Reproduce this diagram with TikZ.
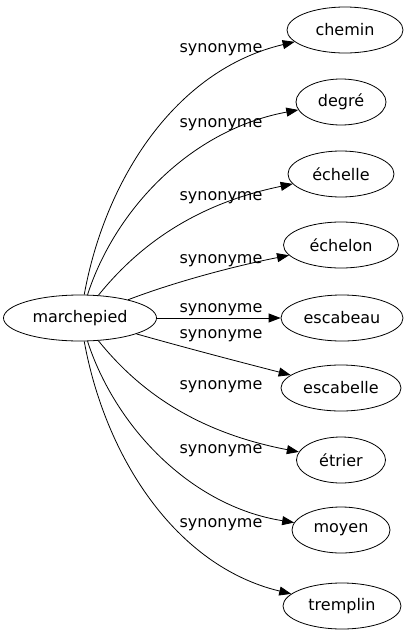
\documentclass[tikz,border=0pt]{standalone}
\usepackage{fontspec}
\setmainfont{DejaVu Sans}
\usetikzlibrary{shapes.geometric,arrows.meta}
\begin{document}
\begin{tikzpicture}[x=1pt,y=-1pt,
  word/.style={draw,ellipse,line width=0.8pt,inner sep=0pt,minimum height=46pt,font=\fontsize{16}{18}\selectfont},
  rel/.style={draw,line width=0.8pt,-{Triangle[length=12pt,width=9pt]}},
  lab/.style={anchor=base,inner sep=0pt,font=\fontsize{16}{18}\selectfont}]
\fill[white] (0,0) rectangle (409,635);
\useasboundingbox (0,0) rectangle (409,635);
\node[word,minimum width=153pt] (m) at (80,318) {marchepied};
\node[word,minimum width=116pt] (chemin) at (345,30) {chemin};
\node[word,minimum width=90pt] (degre) at (341,102) {degré};
\node[word,minimum width=106pt] (echelle) at (341,174) {échelle};
\node[word,minimum width=115pt] (echelon) at (341,245) {échelon};
\node[word,minimum width=122pt] (escabeau) at (342,318) {escabeau};
\node[word,minimum width=120pt] (escabelle) at (341,388) {escabelle};
\node[word,minimum width=89pt] (etrier) at (341,460) {étrier};
\node[word,minimum width=98pt] (moyen) at (341,530) {moyen};
\node[word,minimum width=118pt] (tremplin) at (342,606) {tremplin};
\draw[rel] (m) .. controls (105,180) and (175,70) .. (chemin);
\draw[rel] (m) .. controls (115,210) and (190,130) .. (degre);
\draw[rel] (m) .. controls (135,250) and (190,205) .. (echelle);
\draw[rel] (m) .. controls (180,280) and (240,265) .. (echelon);
\draw[rel] (m) -- (escabeau);
\draw[rel] (m) .. controls (190,349) and (240,362) .. (escabelle);
\draw[rel] (m) .. controls (135,386) and (190,431) .. (etrier);
\draw[rel] (m) .. controls (115,426) and (190,506) .. (moyen);
\draw[rel] (m) .. controls (105,456) and (175,566) .. (tremplin);
\node[lab] (l1) at (221,52) {synonyme};
\node[lab] (l2) at (221,127) {synonyme};
\node[lab] (l3) at (221,200) {synonyme};
\node[lab] (l4) at (221,263) {synonyme};
\node[lab] (l5) at (221,312) {synonyme};
\node[lab] (l6) at (221,338) {synonyme};
\node[lab] (l7) at (221,389) {synonyme};
\node[lab] (l8) at (221,453) {synonyme};
\node[lab] (l9) at (221,527) {synonyme};
\end{tikzpicture}
\end{document}
